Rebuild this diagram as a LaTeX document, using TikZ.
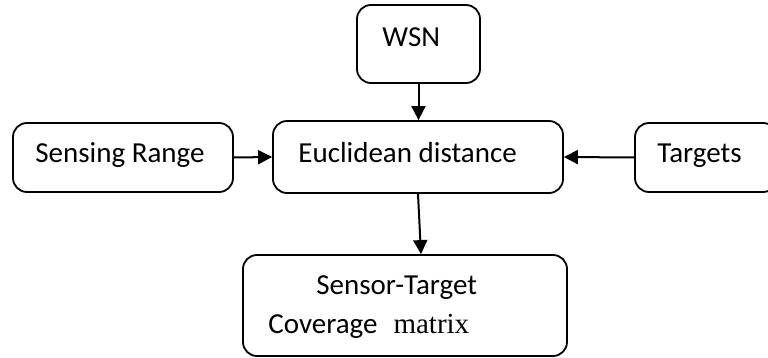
\documentclass[tikz,border=0pt]{standalone}
\usepackage{fontspec}
\setmainfont{Carlito}
\newfontfamily\timesfont{Liberation Serif}
\usetikzlibrary{arrows.meta}

\begin{document}
\begin{tikzpicture}[x=0.5pt,y=-0.5pt,
    blk/.style={draw,line width=0.9pt,rounded corners=7pt,inner sep=0pt},
    txt/.style={inner sep=0pt,anchor=base west,font=\fontsize{14.5}{17}\selectfont},
    arr/.style={line width=1pt,-{Triangle[length=7pt,width=7pt]}}]%
  \useasboundingbox (0,0) rectangle (768,358);
  % boxes
  \node [blk,minimum width=61.5pt,minimum height=39pt]   (wsn)   at (418.5,44)  {};
  \node [blk,minimum width=110pt,minimum height=34.5pt]  (sense) at (123,157.5) {};
  \node [blk,minimum width=145pt,minimum height=36pt]    (eucl)  at (418,157)   {};
  \node [blk,minimum width=71pt,minimum height=34.5pt]   (targ)  at (706,157.5) {};
  \node [blk,minimum width=162pt,minimum height=50.5pt]  (cov)   at (405,305.5) {};
  % texts
  \node [txt] (wsnT)   at (382,47)  {WSN};
  \node [txt] (senseT) at (35,163)  {Sensing Range};
  \node [txt] (euclT)  at (298,163) {Euclidean distance};
  \node [txt] (targT)  at (657,163) {Targets};
  \node [txt] (covT)   at (316,295) {Sensor-Target};
  \node [txt] (covM)   at (268,334) {Coverage\hspace{8pt}{\timesfont matrix}};
  % arrows
  \draw [arr] (wsn.south)  -- (wsn.south |- eucl.north);
  \draw [arr] (sense.east) -- (eucl.west);
  \draw [arr] (targ.west)  -- (eucl.east);
  \draw [arr] (eucl.south) -- ([xshift=1.5pt]cov.north -| eucl.south);
\end{tikzpicture}
\end{document}
